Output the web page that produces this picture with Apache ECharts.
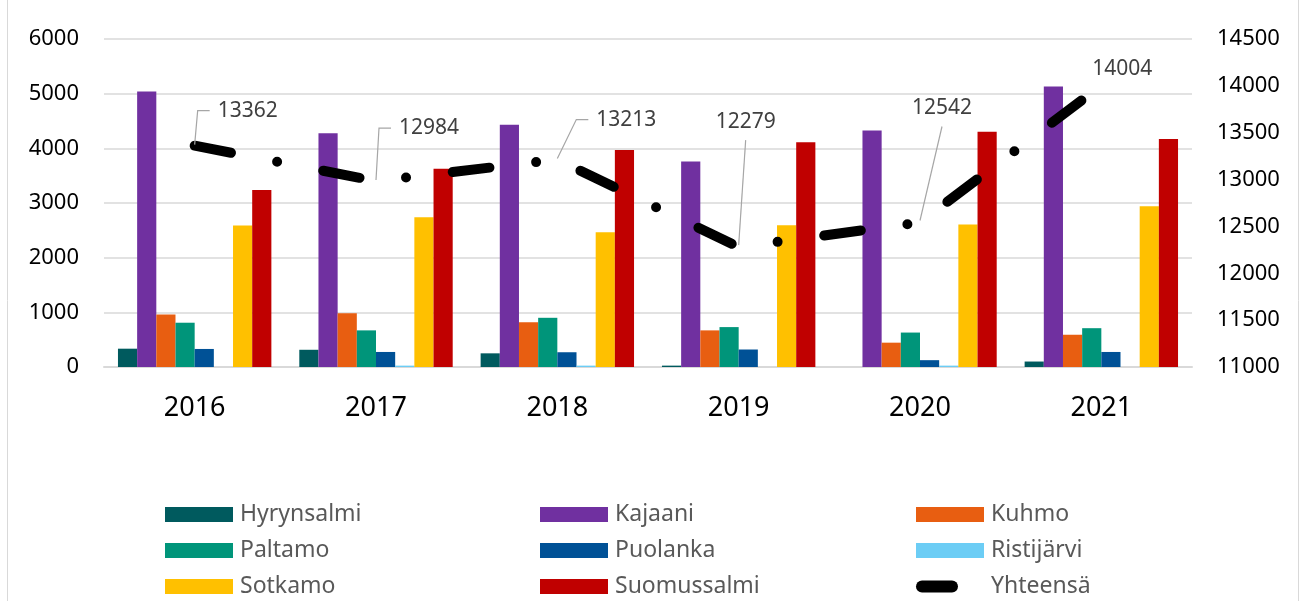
<!DOCTYPE html>
<html>
<head>
<meta charset="utf-8">
<script src="https://cdn.jsdelivr.net/npm/echarts@6/dist/echarts.min.js"></script>
<style>
  html, body { margin: 0; padding: 0; background: #fff; }
  #chart { width: 1308px; height: 601px; }
</style>
</head>
<body>
<div id="chart"></div>
<script>
const years = ['2016', '2017', '2018', '2019', '2020', '2021']

const hyrynsalmi = [335, 315, 250, 25, 0, 100]
const kajaani = [5040, 4275, 4430, 3760, 4325, 5130]
const kuhmo = [960, 985, 820, 670, 445, 590]
const paltamo = [810, 670, 900, 730, 630, 710]
const puolanka = [330, 275, 270, 320, 125, 275]
const ristijarvi = [0, 25, 25, 0, 25, 0]
const sotkamo = [2590, 2740, 2465, 2595, 2605, 2940]
const suomussalmi = [3240, 3625, 3970, 4110, 4305, 4170]
const yhteensa = [13362, 12984, 13213, 12279, 12542, 14004]

const leftTicks = { min: 0, max: 6000, interval: 1000 }
const rightTicks = { min: 11000, max: 14500, interval: 500 }

const font = 'Noto Sans'

// label offsets from the point (label centre) and leader style
const labelOffsets = [[53, -35], [53, -53], [69, -40], [7, -125], [22, -114], [21, -16]]
const leaderKind = ['elbow', 'elbow', 'elbow', 'straight', 'straight', 'none']

const barSeries = [
  { name: 'Hyrynsalmi', data: hyrynsalmi, color: '#005A5E' },
  { name: 'Kajaani', data: kajaani, color: '#7030A0' },
  { name: 'Kuhmo', data: kuhmo, color: '#E85E11' },
  { name: 'Paltamo', data: paltamo, color: '#00957A' },
  { name: 'Puolanka', data: puolanka, color: '#005196' },
  { name: 'Ristijärvi', data: ristijarvi, color: '#6CCDF5' },
  { name: 'Sotkamo', data: sotkamo, color: '#FFC000' },
  { name: 'Suomussalmi', data: suomussalmi, color: '#C00000' }
].map(s => ({
  name: s.name,
  type: 'bar',
  data: s.data,
  barGap: '0%',
  barCategoryGap: '15.4%',
  itemStyle: { color: s.color }
}))

const pill = 'path://M0,0M68,15M6,1.5L36,1.5A6,6,0,0,1,36,13.5L6,13.5A6,6,0,0,1,6,1.5Z'

const legendCommon = {
  orient: 'vertical',
  top: 503,
  padding: 0,
  icon: 'rect',
  itemWidth: 68,
  itemHeight: 15,
  itemGap: 13,
  textStyle: { fontFamily: font, fontSize: 23, color: '#595959', lineHeight: 22, padding: [0, 0, 0, 2] }
}

// value labels with leader lines for the total line
function renderTotalLabel(params, api) {
  const i = params.dataIndex
  const p = api.coord([api.value(0), api.value(1)])
  const lx = p[0] + labelOffsets[i][0]
  const ly = p[1] + labelOffsets[i][1]
  const children = []
  let pts = null
  if (leaderKind[i] === 'elbow') {
    pts = [[p[0], p[1] - 1], [lx - 50, ly], [lx - 38, ly]]
  } else if (leaderKind[i] === 'straight') {
    pts = [[p[0], p[1] - 2], [lx, ly + 18]]
  }
  if (pts) {
    children.push({
      type: 'polyline',
      shape: { points: pts },
      style: { stroke: '#a6a6a6', lineWidth: 1.2, fill: null }
    })
  }
  children.push({
    type: 'text',
    x: lx,
    y: ly,
    style: {
      text: String(api.value(1)),
      fill: '#404040',
      fontSize: 21,
      fontFamily: font,
      align: 'center',
      verticalAlign: 'middle'
    }
  })
  return { type: 'group', children: children }
}

const chart = echarts.init(document.getElementById('chart'))
chart.setOption({
  animation: false,
  textStyle: { fontFamily: font },
  grid: { left: 104, right: 116, top: 39, bottom: 234, containLabel: false },
  graphic: [{
    type: 'rect',
    shape: { x: 7.5, y: -10, width: 1291, height: 630 },
    style: { fill: 'none', stroke: '#d9d9d9', lineWidth: 1 },
    silent: true
  }],
  legend: [
    Object.assign({}, legendCommon, { left: 165, data: ['Hyrynsalmi', 'Paltamo', 'Sotkamo'] }),
    Object.assign({}, legendCommon, { left: 540, data: ['Kajaani', 'Puolanka', 'Suomussalmi'] }),
    Object.assign({}, legendCommon, {
      left: 916,
      data: ['Kuhmo', 'Ristijärvi', { name: 'Yhteensä', icon: pill, itemStyle: { color: '#000', opacity: 1 } }]
    })
  ],
  xAxis: {
    type: 'category',
    data: years,
    axisLine: { lineStyle: { color: '#d9d9d9', width: 2 } },
    axisTick: { show: false },
    axisLabel: { fontSize: 27, color: '#000', margin: 28 }
  },
  yAxis: [
    {
      type: 'value',
      min: leftTicks.min, max: leftTicks.max, interval: leftTicks.interval,
      axisLine: { show: false },
      axisTick: { show: false },
      splitLine: { lineStyle: { color: '#d9d9d9', width: 1.5 } },
      axisLabel: { fontSize: 22, color: '#000', margin: 25, formatter: v => String(v) }
    },
    {
      type: 'value',
      min: rightTicks.min, max: rightTicks.max, interval: rightTicks.interval,
      axisLine: { show: false },
      axisTick: { show: false },
      splitLine: { show: false },
      axisLabel: { fontSize: 22, color: '#000', margin: 25, formatter: v => String(v) }
    }
  ],
  series: barSeries.concat([
    {
      name: 'Yhteensä',
      type: 'line',
      yAxisIndex: 1,
      data: yhteensa,
      z: 5,
      symbol: 'none',
      itemStyle: { color: '#000' },
      lineStyle: { color: '#000', width: 10, cap: 'round', type: [37, 47, 0, 47] }
    },
    {
      name: 'Yhteensä labels',
      type: 'custom',
      yAxisIndex: 1,
      z: 6,
      data: yhteensa.map((v, i) => [i, v]),
      encode: { x: 0, y: 1 },
      renderItem: renderTotalLabel,
      silent: true
    }
  ])
})
</script>
</body>
</html>
